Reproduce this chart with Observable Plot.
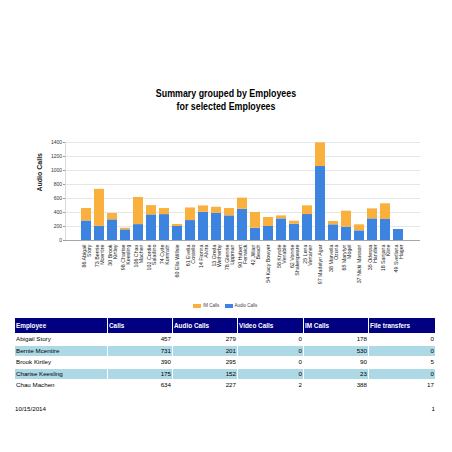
<!DOCTYPE html>
<html>
<head>
<meta charset="utf-8">
<script src="https://cdn.jsdelivr.net/npm/d3@7"></script>
<script src="https://cdn.jsdelivr.net/npm/@observablehq/plot@0.6"></script>
<style>
  html, body { margin: 0; padding: 0; background: #fff; }
  body { width: 452px; height: 452px; position: relative; overflow: hidden;
         font-family: "Liberation Sans Narrow", "Arial Narrow", "Liberation Sans", Arial, sans-serif; }
  #title { position: absolute; left: 0; top: 86.5px; width: 452px; text-align: center;
           font-weight: bold; font-size: 11.5px; line-height: 13px; color: #000;
           transform: scaleX(0.77); transform-origin: 226px 0; }
  #chart { position: absolute; left: 0; top: 130px; }
  #legend { position: absolute; left: 0; top: 302px; width: 452px; height: 8px; font-size: 4.5px; color: #444; }
  .sw { position: absolute; width: 8px; height: 4px; top: 2px; }
  .lt { position: absolute; top: 1px; line-height: 6px; }
  #tbl { position: absolute; left: 14px; top: 317px; border-collapse: separate; border-spacing: 1px;
         table-layout: fixed; width: 422px; font-size: 6.2px; color: #000; }
  #tbl th { background: #000080; color: #fff; font-weight: bold; font-size: 6.4px; text-align: left;
            height: 15px; vertical-align: top; padding: 3.5px 1px 0 1px; box-sizing: border-box; }
  #tbl td { height: 10.6px; padding: 0 1px; line-height: 10.6px; white-space: nowrap; box-sizing: border-box; }
  #tbl td.n { text-align: right; }
  #tbl tr.alt td { background: #add8e6; }
  #foot { position: absolute; left: 15px; top: 405px; width: 420px; font-size: 6.2px; }
  #foot span.r { position: absolute; right: 0; top: 0; }
</style>
</head>
<body>
<div id="title">Summary grouped by Employees<br>for selected Employees</div>
<div id="chart"></div>
<div id="legend"></div>
<table id="tbl"></table>
<div id="foot"><span>10/15/2014</span><span class="r">1</span></div>
<script>
// ---- chart data ----
const employees = [
  "86 Abigail\nStory", "73 Bernie\nMcentire", "30 Brook\nKirtley", "98 Charise\nKeesling",
  "106 Chau\nMachen", "102 Cordie\nSaladino", "74 Cyde\nKornrath", "60 Ella Willsie",
  "61 Evelia\nCostello", "14 Fionna\nAlvira", "13 Greda\nWetherby", "78 Glennie\nLippman",
  "90 Hubert\nFenwick", "42 Jillian\nBeach", "54 Kacy Bowyer", "58 Krystle\nVenable",
  "62 Vonnie\nShakespeare", "25 Lena\nVertanen", "97 Madelyn Agar", "38 Marvella\nOzuna",
  "65 Marylyn\nMogel", "37 Nicki Masson", "35 Odessa\nHandler", "18 Sanjana\nKline",
  "49 Svetlana\nHager"
];
const audioCalls = [279, 201, 295, 152, 227, 366, 370, 200, 285, 403, 389, 352, 447, 176, 200, 309, 233, 371, 1057, 224, 190, 138, 309, 300, 157];
const imCalls    = [178, 530, 90, 23, 388, 132, 86, 28, 180, 91, 86, 105, 158, 224, 128, 43, 43, 124, 338, 47, 229, 86, 143, 224, 0];
const seriesNames = ["Audio Calls", "IM Calls"];
const seriesColors = ["#3c84e0", "#f9b03c"];
const yTicks = [0, 200, 400, 600, 800, 1000, 1200, 1400];

// ---- table data ----
const tableHeaders = ["Employee", "Calls", "Audio Calls", "Video Calls", "IM Calls", "File transfers"];
const tableNames = ["Abigail Story", "Bernie Mcentire", "Brook Kirtley", "Charise Keesling", "Chau Machen"];
const tableCalls = [457, 731, 390, 175, 634];
const tableAudio = [279, 201, 295, 152, 227];
const tableVideo = [0, 0, 0, 0, 2];
const tableIM = [178, 530, 90, 23, 388];
const tableFiles = [0, 0, 5, 0, 17];

const rows = [];
employees.forEach((e, i) => {
  rows.push({emp: e, type: seriesNames[0], value: audioCalls[i]});
  rows.push({emp: e, type: seriesNames[1], value: imCalls[i]});
});

const fontFam = '"Liberation Sans Narrow", "Arial Narrow", "Liberation Sans", Arial, sans-serif';

const chart = Plot.plot({
  width: 452,
  height: 170,
  marginTop: 12,
  marginBottom: 60,
  marginLeft: 65,
  marginRight: 32,
  style: {fontFamily: fontFam, background: "transparent"},
  x: {type: "band", domain: employees, paddingInner: 0.23, paddingOuter: 0.61, axis: null},
  y: {domain: [0, 1400], axis: null},
  color: {domain: seriesNames, range: seriesColors},
  marks: [
    Plot.gridY(yTicks, {stroke: "#e6e6e6", strokeOpacity: 1}),
    Plot.frame({anchor: "left", stroke: "#d9d9d9"}),
    Plot.barY(rows, {x: "emp", y: "value", fill: "type", order: seriesNames}),
    Plot.ruleY([0], {stroke: "#a6a6a6"}),
    Plot.axisY(yTicks, {tickSize: 2, tickPadding: 1.5, fontSize: 5, stroke: "#999", fill: "#333",
      label: null, tickFormat: d => String(d)}),
    Plot.text(["Audio Calls"], {frameAnchor: "left", dx: -26, rotate: -90, fontWeight: "bold", fontSize: 7, fill: "#222"}),
    Plot.text(employees, {x: d => d, text: d => d, frameAnchor: "bottom", dy: 4, rotate: -90,
      textAnchor: "end", lineAnchor: "middle", lineHeight: 1.05, fontSize: 5.3, fill: "#222"})
  ]
});
document.getElementById("chart").appendChild(chart);

// ---- legend (IM Calls first, then Audio Calls) ----
const legend = document.getElementById("legend");
const legendItems = [
  {name: seriesNames[1], color: seriesColors[1], x: 193},
  {name: seriesNames[0], color: seriesColors[0], x: 224.5}
];
legendItems.forEach(it => {
  const s = document.createElement("div");
  s.className = "sw"; s.style.left = it.x + "px"; s.style.background = it.color;
  legend.appendChild(s);
  const t = document.createElement("div");
  t.className = "lt"; t.style.left = (it.x + 10) + "px"; t.textContent = it.name;
  legend.appendChild(t);
});

// ---- table ----
const tbl = document.getElementById("tbl");
const colW = [92, 64, 64, 65, 64, 66];
const cg = document.createElement("colgroup");
colW.forEach(w => { const c = document.createElement("col"); c.style.width = w + "px"; cg.appendChild(c); });
tbl.appendChild(cg);
const hr = document.createElement("tr");
tableHeaders.forEach(h => { const th = document.createElement("th"); th.textContent = h; hr.appendChild(th); });
tbl.appendChild(hr);
tableNames.forEach((n, i) => {
  const tr = document.createElement("tr");
  if (i % 2 === 1) tr.className = "alt";
  const vals = [n, tableCalls[i], tableAudio[i], tableVideo[i], tableIM[i], tableFiles[i]];
  vals.forEach((v, j) => {
    const td = document.createElement("td");
    td.textContent = v;
    if (j > 0) td.className = "n";
    tr.appendChild(td);
  });
  tbl.appendChild(tr);
});
</script>
</body>
</html>
